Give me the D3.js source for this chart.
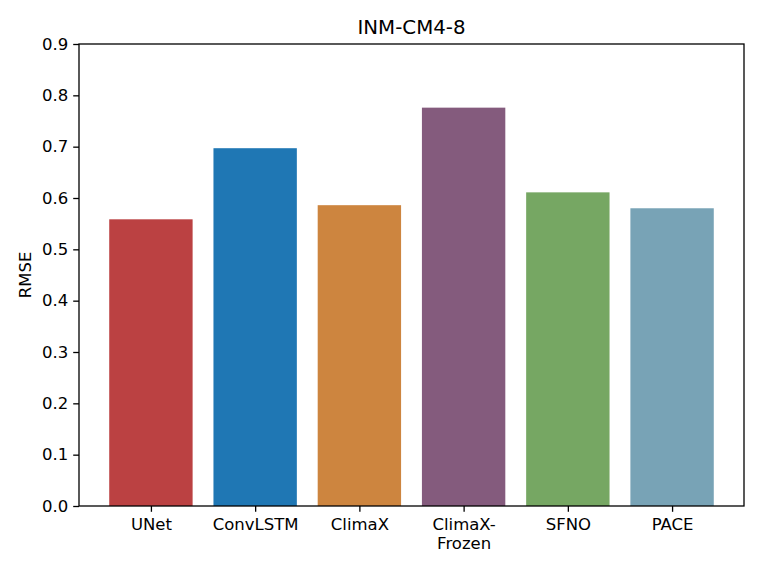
<!DOCTYPE html>
<html>
<head>
<meta charset="utf-8">
<script src="https://cdn.jsdelivr.net/npm/d3@7"></script>
<style>
    body { margin: 0; background: #fff; }
    svg text { font-family: "DejaVu Sans", sans-serif; fill: #000; }
</style>
</head>
<body>
<div id="chart"></div>
<script>
// data
const models = ['UNet', 'ConvLSTM', 'ClimaX', 'ClimaX-\nFrozen', 'SFNO', 'PACE'];
const rmse = [0.5585, 0.697, 0.586, 0.776, 0.611, 0.580];
const colors = ['#bb4142', '#1f77b4', '#cd853f', '#845b7d', '#76a763', '#78a3b6'];
const yTicks = [0.0, 0.1, 0.2, 0.3, 0.4, 0.5, 0.6, 0.7, 0.8, 0.9];
const title = 'INM-CM4-8';
const yLabel = 'RMSE';

const width = 761, height = 571;
const margin = {top: 44, right: 17, bottom: 65, left: 79};
const barWidth = 0.8;

const svg = d3.select('#chart').append('svg')
    .attr('width', width)
    .attr('height', height);

const plotW = width - margin.left - margin.right;
const plotH = height - margin.top - margin.bottom;

const g = svg.append('g')
    .attr('transform', `translate(${margin.left},${margin.top})`);

// matplotlib style 5% margins around the bars
const lo = -barWidth / 2, hi = models.length - 1 + barWidth / 2;
const pad = (hi - lo) * 0.05;
const x = d3.scaleLinear().domain([lo - pad, hi + pad]).range([0, plotW]);
const y = d3.scaleLinear().domain([0, 0.9]).range([plotH, 0]);

g.selectAll('rect.bar')
    .data(rmse)
    .join('rect')
    .attr('class', 'bar')
    .attr('x', (d, i) => x(i - barWidth / 2))
    .attr('width', (d, i) => x(i + barWidth / 2) - x(i - barWidth / 2))
    .attr('y', d => y(d))
    .attr('height', d => y(0) - y(d))
    .attr('fill', (d, i) => colors[i]);

// y axis
const yAxis = g.append('g')
    .call(d3.axisLeft(y).tickValues(yTicks).tickFormat(d3.format('.1f'))
        .tickSize(5.8).tickPadding(5));
yAxis.select('.domain').remove();
yAxis.selectAll('line').attr('stroke-width', 1.3);
yAxis.selectAll('text').style('font-size', '16.5px');

// x axis
const xAxis = g.append('g')
    .attr('transform', `translate(0,${plotH})`)
    .call(d3.axisBottom(x).tickValues(d3.range(models.length))
        .tickSize(5.8).tickFormat(''));
xAxis.select('.domain').remove();
xAxis.selectAll('line').attr('stroke-width', 1.3);

xAxis.selectAll('.tick').each(function(d, i) {
    const lines = models[i].split('\n');
    const t = d3.select(this).append('text')
        .attr('text-anchor', 'middle')
        .attr('y', 24)
        .style('font-size', '16.5px');
    lines.forEach((s, k) => {
        t.append('tspan').attr('x', 0).attr('dy', k === 0 ? 0 : 19).text(s);
    });
});

// frame
g.append('rect')
    .attr('width', plotW)
    .attr('height', plotH)
    .attr('fill', 'none')
    .attr('stroke', '#000')
    .attr('stroke-width', 1.3);

// title and label
svg.append('text')
    .attr('x', margin.left + plotW / 2)
    .attr('y', 34)
    .attr('text-anchor', 'middle')
    .style('font-size', '19.8px')
    .text(title);

svg.append('text')
    .attr('transform', `translate(31,${margin.top + plotH / 2}) rotate(-90)`)
    .attr('text-anchor', 'middle')
    .style('font-size', '16.5px')
    .text(yLabel);
</script>
</body>
</html>
